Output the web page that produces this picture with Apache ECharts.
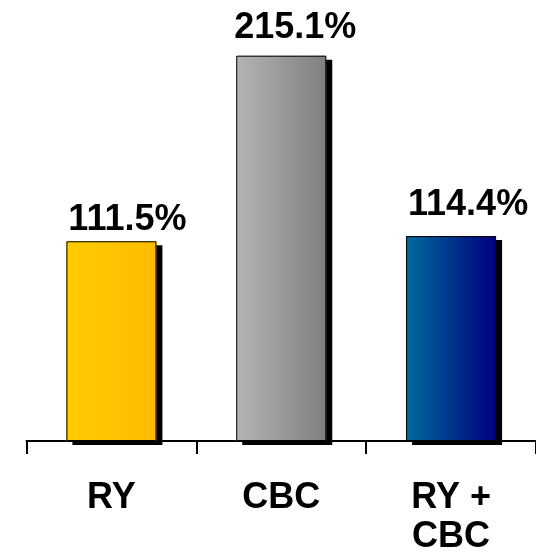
<!DOCTYPE html>
<html><head><meta charset="utf-8">
<script src="https://cdn.jsdelivr.net/npm/echarts@6/dist/echarts.min.js"></script>
<style>html,body{margin:0;padding:0;background:#fff}#c{width:536px;height:559px}</style>
</head><body><div id="c"></div>
<script>
const categories = ['RY', 'CBC', 'RY +\nCBC'];
const values = [111.5, 215.1, 114.4];
const valueLabels = ['111.5%', '215.1%', '114.4%'];

const gradients = [
  ['#FFCC00', '#FFBB00'],
  ['#B4B4B4', '#7F7F7F'],
  ['#006A9C', '#000080']
];
const labelOffsets = [[16, 0], [14, 0], [17, 0]];
const labelDistances = [3, 10, 13];

const chart = echarts.init(document.getElementById('c'), null, {renderer: 'canvas'});
const font = "'Liberation Sans', Arial, sans-serif";
chart.setOption({
  animation: false,
  grid: {left: 26.5, right: -6, top: 11.1, bottom: 118, containLabel: false},
  xAxis: {
    type: 'category', data: categories,
    axisLine: {show: true, lineStyle: {color: '#000', width: 2}},
    axisTick: {show: true, length: 13, lineStyle: {color: '#000', width: 2}},
    axisLabel: {color: '#000', fontFamily: font, fontWeight: 'bold', fontSize: 36, lineHeight: 39, margin: 38, interval: 0}
  },
  yAxis: {type: 'value', min: 0, max: 240, show: false, splitLine: {show: false}},
  series: [{
    type: 'bar', barWidth: 90, z: 2,
    data: values.map((v, i) => ({
      value: v,
      itemStyle: {
        color: new echarts.graphic.LinearGradient(0, 0, 1, 0, [
          {offset: 0, color: gradients[i][0]},
          {offset: 1, color: gradients[i][1]}
        ]),
        shadowColor: '#000', shadowOffsetX: 6, shadowOffsetY: 4, shadowBlur: 0
      }
    }))
  }, {
    type: 'bar', barWidth: 90, barGap: '-100%', z: 3,
    data: values.map((v, i) => ({
      value: v,
      itemStyle: {color: 'rgba(0,0,0,0)', borderColor: '#000', borderWidth: 1},
      label: {
        show: true, position: 'top', distance: labelDistances[i], offset: labelOffsets[i],
        formatter: valueLabels[i], color: '#000', fontFamily: font, fontWeight: 'bold', fontSize: 36
      }
    }))
  }]
});
</script></body></html>
